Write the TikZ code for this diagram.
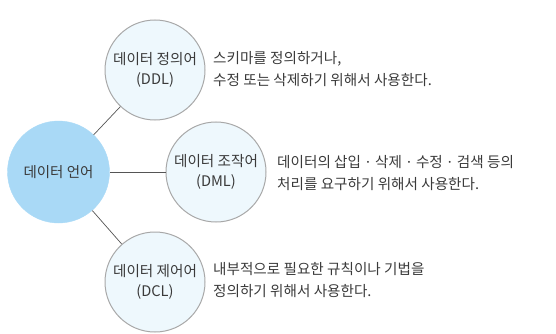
\documentclass[tikz,border=0pt]{standalone}
\usepackage{fontspec}
\setmainfont{Noto Sans CJK KR}
\newfontfamily\latinfont{Noto Sans}
\definecolor{txt}{HTML}{3A3A3A}
\definecolor{mainfill}{HTML}{A9D9F6}
\definecolor{subfill}{HTML}{EEF8FD}
\definecolor{rim}{HTML}{A8A8A8}
\definecolor{wire}{HTML}{555555}
\newcommand{\mdot}{\hspace{1.8pt}{\latinfont ·}\hspace{1.8pt}}
\tikzset{
  mainnode/.style={circle, fill=mainfill, draw=mainfill, minimum size=102pt, inner sep=0pt,
    text=txt, font=\fontsize{14.5}{20}\selectfont},
  subnode/.style={circle, fill=subfill, draw=rim, line width=1pt, minimum size=100pt, inner sep=0pt,
    align=center, text=txt, font=\fontsize{14.6}{20}\selectfont},
  desc/.style={anchor=west, align=left, inner sep=0pt, text=txt, font=\fontsize{14.6}{22}\selectfont},
  wireline/.style={draw=wire, line width=0.7pt}
}
\begin{document}
\begin{tikzpicture}[x=1pt,y=-1pt]
\useasboundingbox (0,0) rectangle (556,334);
\node[mainnode] (lang) at (58.5,172) {데이터 언어};
\node[subnode] (ddl) at (155,70) {데이터 정의어\\(DDL)};
\node[subnode] (dml) at (216,172) {데이터 조작어\\(DML)};
\node[subnode] (dcl) at (155,282) {데이터 제어어\\(DCL)};
\draw[wireline] (lang) -- (ddl);
\draw[wireline] (lang.east) -- (dml.west);
\draw[wireline] (lang) -- (dcl);
\node[desc] (ddltext) at (213,69) {스키마를 정의하거나,\\수정 또는 삭제하기 위해서 사용한다.};
\node[desc] (dmltext) at (277,173) {데이터의 삽입 \mdot{} 삭제 \mdot{} 수정 \mdot{} 검색 등의\\처리를 요구하기 위해서 사용한다.};
\node[desc] (dcltext) at (213,280) {내부적으로 필요한 규칙이나 기법을\\정의하기 위해서 사용한다.};
\end{tikzpicture}
\end{document}
